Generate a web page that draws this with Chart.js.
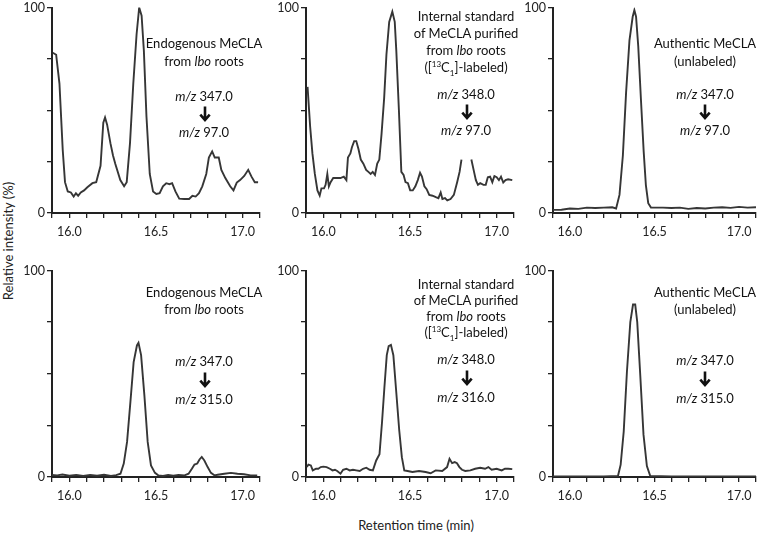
<!DOCTYPE html>
<html><head><meta charset="utf-8">
<script src="https://cdn.jsdelivr.net/npm/chart.js@4.4.1/dist/chart.umd.min.js"></script>
<style>
body{margin:0;background:#fff;}
#wrap{position:relative;width:762px;height:534px;overflow:hidden;font-family:Lato,"Open Sans",sans-serif;color:#111;background:#fff;}
.pc{position:absolute;}
.ln{position:absolute;transform:translate(-50%,-50%);white-space:nowrap;font-size:13px;line-height:16px;text-align:center;}
.ttl{position:absolute;white-space:nowrap;font-size:13px;color:#222;}
sup,sub{font-size:8px;line-height:0;}
</style></head><body><div id="wrap"></div>
<script>
// ---------- data ----------
const xTickLabels = ['16.0','16.5','17.0'];
const yTickLabels = ['0','100'];

// top row: m/z -> 97.0
const p1x = [15.905,15.924,15.943,15.962,15.975,15.991,16.009,16.025,16.038,16.051,16.066,16.085,16.104,16.133,16.155,16.180,16.196,16.206,16.218,16.237,16.252,16.265,16.294,16.316,16.331,16.350,16.369,16.388,16.403,16.417,16.430,16.445,16.464,16.483,16.502,16.521,16.540,16.559,16.578,16.593,16.612,16.634,16.663,16.691,16.710,16.729,16.748,16.767,16.790,16.805,16.824,16.839,16.862,16.877,16.900,16.928,16.947,16.966,16.985,17.009,17.032,17.051,17.070,17.089];
const p1y = [78,77,63,30.5,15,10.5,10,8,9.6,8.4,10,11,12.5,14.5,15,23,44,46.5,43,34,28,24,16,13,15,34,63,87,100,96,79,47,19,10.5,9.3,9.6,13,14.5,14,14.5,10.5,7,6.8,6.8,8.4,8,9.6,13,19,27,30,27,27,21,17,13,11,14.8,16,18,21,17.7,15,15];

const p2x = [15.909,15.924,15.937,15.951,15.966,15.979,15.989,16.004,16.013,16.023,16.032,16.042,16.057,16.076,16.099,16.118,16.133,16.142,16.156,16.165,16.178,16.190,16.203,16.216,16.231,16.247,16.260,16.273,16.285,16.298,16.311,16.323,16.336,16.351,16.364,16.380,16.398,16.412,16.421,16.436,16.450,16.463,16.474,16.488,16.501,16.516,16.531,16.545,16.558,16.569,16.583,16.596,16.611,16.630,16.649,16.664,16.677,16.687,16.702,16.715,16.734,16.753,16.772,16.786,16.797,16.825,16.854,16.867,16.880,16.892,16.905,16.924,16.937,16.949,16.962,16.975,16.987,17.000,17.013,17.025,17.038,17.051,17.066,17.090];
const p2y = [61.4,42,29,19,11,8.5,12,12,13.7,19,13,15,17,17,17,17.7,16,27,29,32,35,35,31,26,24,21,20,19,20,18.5,24,26,38.6,56,77,93,98,93,79,50,20,18.5,15,14.5,11,11,13,16,19.6,17.7,13,11.6,8.8,8.4,7.7,7.2,10,6.8,7.2,6.1,6.8,8.8,15,20,26,null,26,21,16,13.7,14.5,13.7,13.7,17.4,17.7,15,18,17.4,16,17.7,14.8,16,16.4,16];

const p3x = [15.90,15.95,16.00,16.05,16.10,16.15,16.20,16.25,16.273,16.293,16.313,16.332,16.352,16.371,16.381,16.391,16.404,16.420,16.436,16.449,16.463,16.479,16.55,16.60,16.65,16.70,16.75,16.80,16.85,16.90,16.95,17.00,17.05,17.10];
const p3y = [1.5,1.6,2.2,2.0,2.6,2.4,2.6,2.8,2.2,8.8,28,58.6,84,95.5,98.7,95.5,81,55,30,13.6,4.8,2.7,2.6,2.4,2.6,2.0,2.4,2.2,2.6,2.8,2.5,3.0,2.6,2.8];

// bottom row: m/z -> 315.0 / 316.0
const p4x = [15.90,15.93,15.96,16.00,16.04,16.08,16.12,16.16,16.20,16.24,16.27,16.295,16.314,16.333,16.352,16.371,16.390,16.399,16.414,16.433,16.452,16.471,16.494,16.513,16.54,16.57,16.60,16.63,16.665,16.688,16.707,16.722,16.738,16.751,16.764,16.779,16.798,16.817,16.837,16.856,16.894,16.932,16.970,17.008,17.046,17.084];
const p4y = [1.0,0.8,1.2,0.6,1.0,0.5,1.0,0.6,1.1,0.5,0.9,1.6,6.5,17,36,55.6,63.7,65,59,39.5,17,5.6,2,0.8,0.5,1.0,0.6,1.0,0.8,1.6,4,6,6.5,8.5,9.7,8,4.8,2,0.8,1.1,1.6,2,1.6,1.3,0.8,0.8];

const p5x = [15.905,15.914,15.928,15.939,15.958,15.971,15.985,16.000,16.019,16.038,16.053,16.067,16.080,16.099,16.114,16.133,16.152,16.171,16.190,16.210,16.229,16.248,16.267,16.286,16.305,16.324,16.339,16.352,16.366,16.377,16.390,16.404,16.419,16.438,16.453,16.467,16.486,16.514,16.552,16.590,16.619,16.648,16.686,16.714,16.728,16.743,16.758,16.771,16.785,16.800,16.819,16.848,16.876,16.905,16.933,16.952,16.971,17.000,17.029,17.048,17.067,17.090];
const p5y = [4.8,6,5.6,3.2,4,4,4.8,5,4.8,4,3.2,3.5,2.9,1.6,3.5,4,3.2,3.5,3.2,2.9,4,4.5,3.5,3.2,8,11,27,43,59,63.4,64,59,43,22.5,9.6,3.2,2.9,2.4,2.9,2.4,1.8,3.2,2.9,4.8,8.8,6.7,7.2,6.7,4.8,3.5,2.9,3.2,4,4.5,4,4.8,3.5,4,3.2,4,4,3.8];

const p6x = [15.90,16.00,16.10,16.20,16.284,16.300,16.318,16.337,16.357,16.373,16.386,16.398,16.416,16.435,16.455,16.475,16.60,16.80,17.00,17.10];
const p6y = [0.3,0.3,0.3,0.3,0.5,6,22,51,75,83.5,83.5,75,49,20.5,5.3,0.5,0.3,0.3,0.3,0.3];

const seriesX = [p1x,p2x,p3x,p4x,p5x,p6x];
const seriesY = [p1y,p2y,p3y,p4y,p5y,p6y];

// ---------- layout ----------
const boxes = [
  {left:22, top:-2,  width:244, height:248},
  {left:276,top:-2,  width:244, height:248},
  {left:523,top:-2,  width:239, height:248},
  {left:22, top:261, width:244, height:249},
  {left:276,top:261, width:244, height:249},
  {left:523,top:261, width:239, height:249}
];

const wrap = document.getElementById('wrap');
const FONT = 'Lato';

function makeTicks(min, max, step){
  const out=[]; const n=Math.round((max-min)/step);
  for(let i=0;i<=n;i++){ out.push({value: Math.round((min+i*step)*1000)/1000}); }
  return out;
}

seriesX.forEach((xs,k)=>{
  const b = boxes[k];
  const c = document.createElement('canvas');
  c.className='pc'; c.style.left=b.left+'px'; c.style.top=b.top+'px';
  c.style.width=b.width+'px'; c.style.height=b.height+'px';
  c.width=b.width; c.height=b.height;
  wrap.appendChild(c);
  const ys = seriesY[k];
  new Chart(c,{
    type:'line',
    data:{datasets:[{data: xs.map((x,i)=>({x:x,y:ys[i]})), borderColor:'#363636', borderWidth:1.9,
      pointRadius:0, tension:0, spanGaps:false, fill:false}]},
    options:{
      responsive:false, animation:false,
      layout:{padding:{top:0,right:3,left:0,bottom:0}},
      plugins:{legend:{display:false},tooltip:{enabled:false}},
      scales:{
        x:{type:'linear', min:15.9, max:17.1,
          afterBuildTicks:s=>{ s.ticks = makeTicks(15.9,17.1,0.1); },
          afterFit:s=>{ s.height = 33; },
          ticks:{autoSkip:false, maxRotation:0, padding:6, color:'#222', font:{family:FONT,size:12.5},
            callback:v=>{ const t=(Math.round(v*10)/10).toFixed(1); return xTickLabels.includes(t)?t:''; }},
          grid:{display:true, drawOnChartArea:false, drawTicks:true, tickLength:5, color:'#222', lineWidth:1.3},
          border:{display:true, color:'#222', width:2}
        },
        y:{type:'linear', min:0, max:100,
          afterBuildTicks:s=>{ s.ticks = makeTicks(0,100,25); },
          afterFit:s=>{ s.width = 30; },
          ticks:{autoSkip:false, padding:2, color:'#222', font:{family:FONT,size:12.5},
            callback:v=>{ const t=String(Math.round(v)); return yTickLabels.includes(t)?t:''; }},
          grid:{display:true, drawOnChartArea:false, drawTicks:true, tickLength:5, color:'#222', lineWidth:1.3},
          border:{display:true, color:'#222', width:2}
        }
      }
    }
  });
});

// ---------- annotations ----------
const MZ = '<i>m/z</i> ';
const ARROW = '<svg width="12" height="16" viewBox="0 0 12 16"><path d="M6 0.5 V13.5 M1.3 8.6 L6 14 L10.7 8.6" stroke="#111" stroke-width="2.6" fill="none"/></svg>';
const notes = [
  [204,43,'Endogenous MeCLA'],[204,61,'from <i>lbo</i> roots'],[204,96,MZ+'347.0'],[205,114,ARROW],[204,132,MZ+'97.0'],
  [466,16,'Internal standard'],[466,33,'of MeCLA purified'],[466,50,'from <i>lbo</i> roots'],[466,67,'([<sup>13</sup>C<sub>1</sub>]-labeled)'],
  [466,94,MZ+'348.0'],[467,112,ARROW],[466,130,MZ+'97.0'],
  [705,43,'Authentic MeCLA'],[705,61,'(unlabeled)'],[705,94,MZ+'347.0'],[705,112,ARROW],[705,130,MZ+'97.0'],
  [204,292,'Endogenous MeCLA'],[204,309,'from <i>lbo</i> roots'],[204,361,MZ+'347.0'],[205,380,ARROW],[204,399,MZ+'315.0'],
  [466,284,'Internal standard'],[466,300,'of MeCLA purified'],[466,316,'from <i>lbo</i> roots'],[466,332,'([<sup>13</sup>C<sub>1</sub>]-labeled)'],
  [466,359,MZ+'348.0'],[467,378,ARROW],[466,397,MZ+'316.0'],
  [705,292,'Authentic MeCLA'],[705,309,'(unlabeled)'],[705,360,MZ+'347.0'],[705,379,ARROW],[705,398,MZ+'315.0']
];
notes.forEach(n=>{
  const d=document.createElement('div'); d.className='ln';
  d.style.left=n[0]+'px'; d.style.top=n[1]+'px'; d.innerHTML=n[2];
  if(n[2]===ARROW){ d.style.lineHeight='0'; }
  wrap.appendChild(d);
});

const yt=document.createElement('div'); yt.className='ttl';
yt.textContent='Relative intensity (%)';
yt.style.left='8px'; yt.style.top='241px'; yt.style.transform='translate(-50%,-50%) rotate(-90deg)';
wrap.appendChild(yt);
const xt=document.createElement('div'); xt.className='ttl';
xt.textContent='Retention time (min)';
xt.style.left='416px'; xt.style.top='525px'; xt.style.transform='translate(-50%,-50%)';
wrap.appendChild(xt);
</script></body></html>
